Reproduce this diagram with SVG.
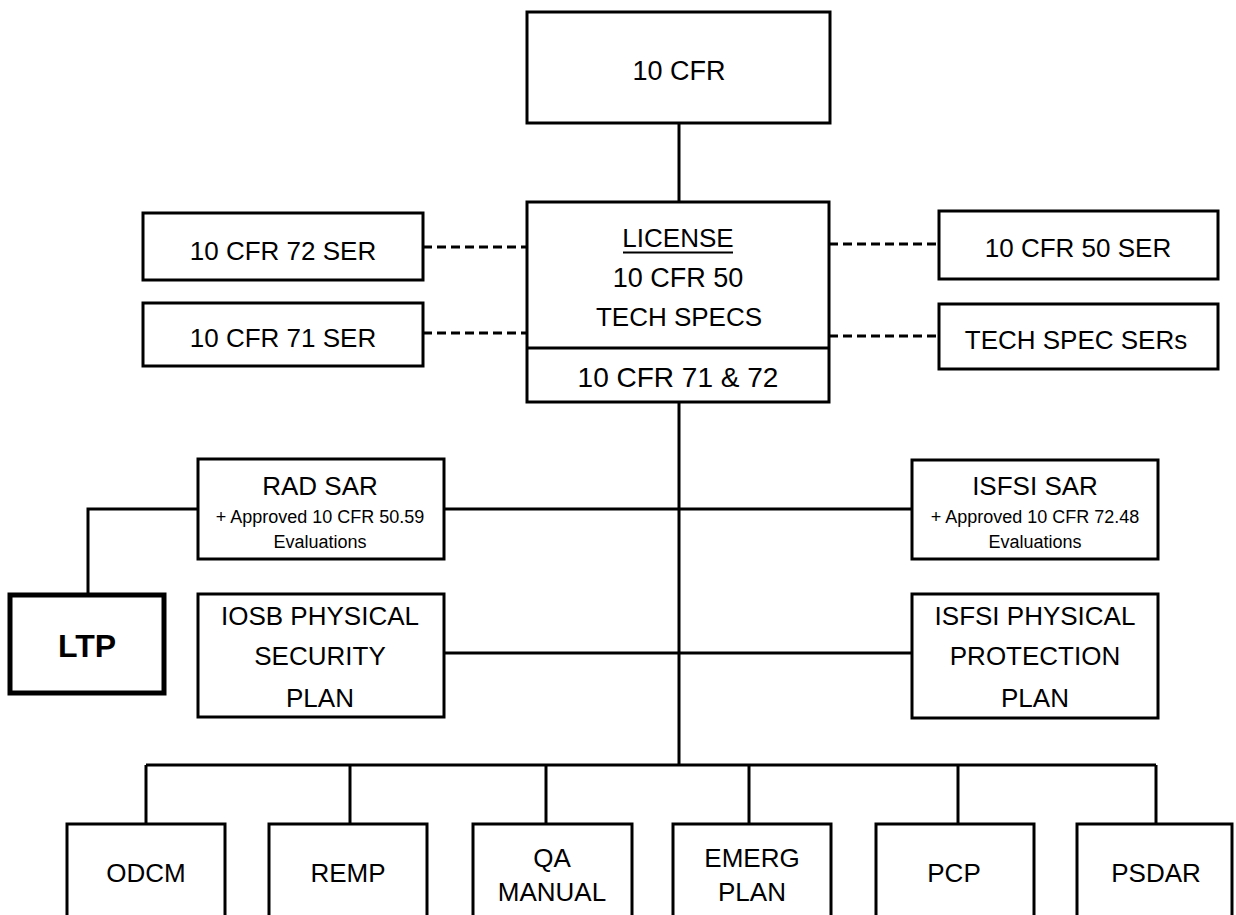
<svg xmlns="http://www.w3.org/2000/svg" width="1236" height="915" viewBox="0 0 1236 915">
<style>
.box{fill:#fff;stroke:#000;stroke-width:3}
.thick{fill:#fff;stroke:#000;stroke-width:5}
.ln{fill:none;stroke:#000;stroke-width:3}
.dash{fill:none;stroke:#000;stroke-width:3;stroke-dasharray:9 5}
text{font-family:"Liberation Sans",Arial,sans-serif;font-size:26px;fill:#000;text-anchor:middle}
.s{font-size:18px}
.l{font-size:27px}
.b{font-weight:bold;font-size:32px}
</style>
<rect width="1236" height="915" fill="#fff"/>
<g id="connectors">
<line class="ln" x1="679" y1="123" x2="679" y2="202"/>
<line class="ln" x1="679" y1="402" x2="679" y2="765"/>
<line class="dash" x1="423" y1="247" x2="527" y2="247"/>
<line class="dash" x1="423" y1="333" x2="527" y2="333"/>
<line class="dash" x1="829" y1="244" x2="939" y2="244"/>
<line class="dash" x1="829" y1="336" x2="939" y2="336"/>
<line class="ln" x1="444" y1="509" x2="912" y2="509"/>
<line class="ln" x1="444" y1="653" x2="912" y2="653"/>
<polyline class="ln" points="198,509 88,509 88,594"/>
<line class="ln" x1="146" y1="765" x2="1156" y2="765"/>
<line class="ln" x1="146" y1="765" x2="146" y2="824"/>
<line class="ln" x1="350" y1="765" x2="350" y2="824"/>
<line class="ln" x1="546" y1="765" x2="546" y2="824"/>
<line class="ln" x1="749" y1="765" x2="749" y2="824"/>
<line class="ln" x1="958" y1="765" x2="958" y2="824"/>
<line class="ln" x1="1156" y1="765" x2="1156" y2="824"/>
</g>
<g id="cfr10">
<rect class="box" x="527" y="12" width="303" height="111"/>
<text class="l" x="679" y="80">10 CFR</text>
</g>
<g id="license">
<rect class="box" x="527" y="202" width="302" height="200"/>
<line class="ln" x1="527" y1="348" x2="829" y2="348"/>
<text x="678" y="247">LICENSE</text>
<line x1="623" y1="252.5" x2="733" y2="252.5" stroke="#000" stroke-width="2"/>
<text class="l" x="678" y="287">10 CFR 50</text>
<text x="679" y="326">TECH SPECS</text>
<text class="l" x="678" y="387" style="font-size:28px">10 CFR 71 &amp; 72</text>
</g>
<g id="ser72">
<rect class="box" x="143" y="213" width="280" height="67"/>
<text x="283" y="260">10 CFR 72 SER</text>
</g>
<g id="ser71">
<rect class="box" x="143" y="303" width="280" height="63"/>
<text x="283" y="347">10 CFR 71 SER</text>
</g>
<g id="ser50">
<rect class="box" x="939" y="211" width="279" height="68"/>
<text x="1078" y="257">10 CFR 50 SER</text>
</g>
<g id="techser">
<rect class="box" x="939" y="304" width="279" height="65"/>
<text x="1076" y="349">TECH SPEC SERs</text>
</g>
<g id="radsar">
<rect class="box" x="198" y="459" width="246" height="100"/>
<text x="320" y="495">RAD SAR</text>
<text class="s" x="320" y="523">+ Approved 10 CFR 50.59</text>
<text class="s" x="320" y="548">Evaluations</text>
</g>
<g id="isfsisar">
<rect class="box" x="912" y="460" width="246" height="99"/>
<text x="1035" y="495">ISFSI SAR</text>
<text class="s" x="1035" y="523">+ Approved 10 CFR 72.48</text>
<text class="s" x="1035" y="548">Evaluations</text>
</g>
<g id="ltp">
<rect class="thick" x="10" y="595" width="154" height="98"/>
<text class="b" x="87" y="657">LTP</text>
</g>
<g id="iosb">
<rect class="box" x="198" y="594" width="246" height="123"/>
<text x="320" y="625">IOSB PHYSICAL</text>
<text x="320" y="665">SECURITY</text>
<text x="320" y="707">PLAN</text>
</g>
<g id="isfsipp">
<rect class="box" x="912" y="594" width="246" height="124"/>
<text x="1035" y="625">ISFSI PHYSICAL</text>
<text x="1035" y="665">PROTECTION</text>
<text x="1035" y="707">PLAN</text>
</g>
<g id="odcm">
<rect class="box" x="67" y="824" width="158" height="96"/>
<text x="146" y="882">ODCM</text>
</g>
<g id="remp">
<rect class="box" x="269" y="824" width="158" height="96"/>
<text x="348" y="882">REMP</text>
</g>
<g id="qa">
<rect class="box" x="473" y="824" width="159" height="96"/>
<text x="552" y="867">QA</text>
<text x="552" y="901">MANUAL</text>
</g>
<g id="emerg">
<rect class="box" x="673" y="824" width="158" height="96"/>
<text x="752" y="867">EMERG</text>
<text x="752" y="901">PLAN</text>
</g>
<g id="pcp">
<rect class="box" x="876" y="824" width="158" height="96"/>
<text x="954" y="882">PCP</text>
</g>
<g id="psdar">
<rect class="box" x="1077" y="824" width="155" height="96"/>
<text x="1156" y="882">PSDAR</text>
</g>
</svg>
